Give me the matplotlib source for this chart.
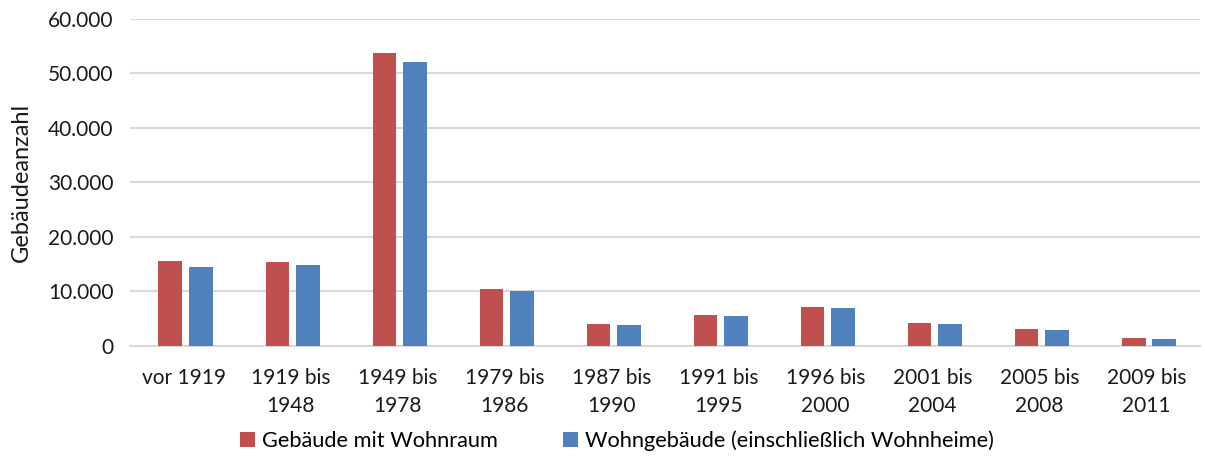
import numpy as np
import matplotlib.pyplot as plt
import matplotlib as mpl

mpl.rc('font', family=['Lato', 'DejaVu Sans'])

categories = ['vor 1919', '1919 bis\n1948', '1949 bis\n1978', '1979 bis\n1986',
              '1987 bis\n1990', '1991 bis\n1995', '1996 bis\n2000', '2001 bis\n2004',
              '2005 bis\n2008', '2009 bis\n2011']
gebaeude_wohnraum = [15600, 15400, 53800, 10500, 3930, 5600, 7070, 4110, 3010, 1480]
wohngebaeude = [14500, 14800, 52100, 10150, 3800, 5460, 6880, 4050, 2950, 1350]
y_ticks = [0, 10000, 20000, 30000, 40000, 50000, 60000]
y_ticklabels = ['0', '10.000', '20.000', '30.000', '40.000', '50.000', '60.000']

font_size = 15
red = '#C0504D'
blue = '#4F81BD'
grid_col = '#D9D9D9'
text_col = '#1a1a1a'

fig = plt.figure(figsize=(12.05, 4.63), dpi=100)
ax = fig.add_axes([0.108, 0.253, 0.888, 0.706])

x = np.arange(len(categories))
width = 0.224
off = 0.143

ax.bar(x - off + 0.02, gebaeude_wohnraum, width, color=red,
       label='Gebäude mit Wohnraum', zorder=3)
ax.bar(x + off + 0.02, wohngebaeude, width, color=blue,
       label='Wohngebäude (einschließlich Wohnheime)', zorder=3)

ax.set_xlim(-0.5, len(categories) - 0.5)
ax.set_ylim(0, 60000)
ax.set_yticks(y_ticks)
ax.set_yticklabels(y_ticklabels, fontsize=font_size, color=text_col)
ax.set_xticks(x)
ax.set_xticklabels(categories, fontsize=font_size, color=text_col, linespacing=1.5)
ax.tick_params(axis='both', length=0)
ax.tick_params(axis='y', pad=12)
ax.tick_params(axis='x', pad=16)

ax.yaxis.grid(True, color=grid_col, lw=1.5, zorder=0)
for s in ('top', 'right', 'left'):
    ax.spines[s].set_visible(False)
ax.spines['bottom'].set_color(grid_col)
ax.spines['bottom'].set_linewidth(1.5)

ax.set_ylabel('Gebäudeanzahl', fontsize=17, color=text_col)
ax.yaxis.set_label_coords(-0.092, 0.5)

ax.legend(loc='center', bbox_to_anchor=(0.455, -0.29), ncol=2, frameon=False,
          fontsize=15.7, handlelength=0.7, handleheight=0.7, handletextpad=0.3,
          columnspacing=3.0)

fig.savefig('out.png', dpi=100)
